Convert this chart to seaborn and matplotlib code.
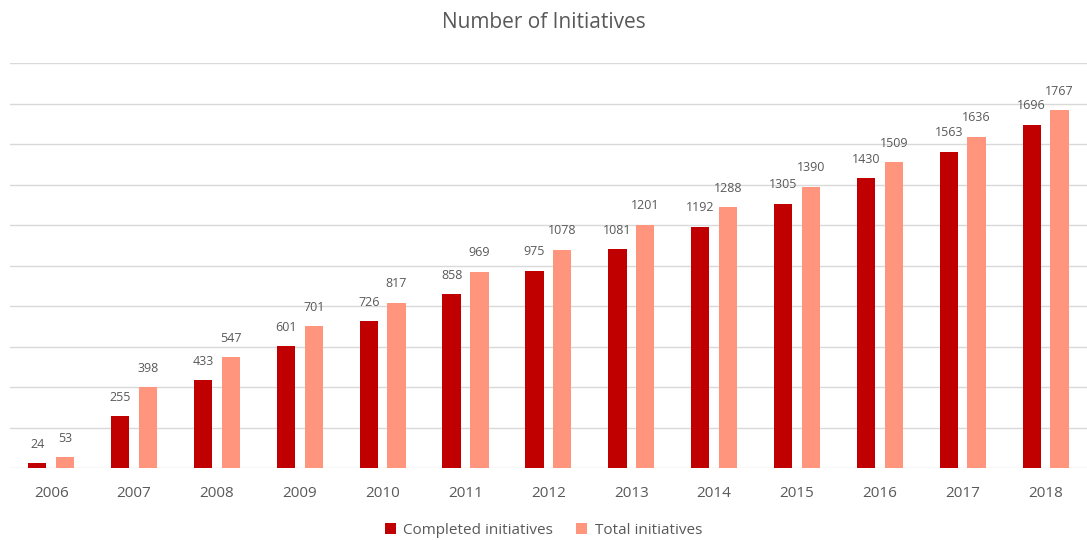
import pandas as pd
import numpy as np
import matplotlib.pyplot as plt
import seaborn as sns

years = ['2006', '2007', '2008', '2009', '2010', '2011', '2012',
         '2013', '2014', '2015', '2016', '2017', '2018']
completed = [24, 255, 433, 601, 726, 858, 975, 1081, 1192, 1305, 1430, 1563, 1696]
total = [53, 398, 547, 701, 817, 969, 1078, 1201, 1288, 1390, 1509, 1636, 1767]
series_names = ['Completed initiatives', 'Total initiatives']

df = pd.DataFrame({
    'year': years * 2,
    'value': completed + total,
    'series': [series_names[0]] * len(years) + [series_names[1]] * len(years),
})

sns.set_theme(style='white')
plt.rcParams['font.family'] = ['Open Sans', 'DejaVu Sans']
text_color = '#595959'

fig = plt.figure(figsize=(10.87, 5.40), dpi=100)
ax = fig.add_axes([0.009, 0.1333, 0.991, 0.75])

sns.barplot(data=df, x='year', y='value', hue='series',
            palette={series_names[0]: '#C00000', series_names[1]: '#FF957D'},
            saturation=1, width=0.67, gap=0.34, linewidth=0, edgecolor='none',
            ax=ax, legend=True)

for cont in ax.containers:
    ax.bar_label(cont, labels=[f'{int(v)}' for v in cont.datavalues],
                 padding=9, fontsize=9, color=text_color)

ax.set_ylim(0, 2000)
ax.set_yticks(np.arange(0, 2001, 200))
ax.set_yticklabels([])
ax.set_xlim(-0.5, 12.5)
ax.grid(axis='y', color='#D9D9D9', linewidth=1)
ax.set_axisbelow(True)
for s in ax.spines.values():
    s.set_visible(False)
ax.tick_params(axis='x', length=0, pad=13, labelsize=11, labelcolor=text_color)
ax.tick_params(axis='y', length=0)
ax.set_xlabel('')
ax.set_ylabel('')

ax.legend_.remove()
handles, labels = ax.get_legend_handles_labels()
fig.legend(handles, labels, loc='lower center', bbox_to_anchor=(0.5, -0.022),
           ncol=2, frameon=False, fontsize=11, labelcolor=text_color,
           handlelength=0.7, handleheight=0.7, handletextpad=0.5, columnspacing=1.5)

fig.text(0.5, 0.958, 'Number of Initiatives', ha='center', va='center',
         fontsize=15, color=text_color)

fig.savefig('out.png', dpi=100)
